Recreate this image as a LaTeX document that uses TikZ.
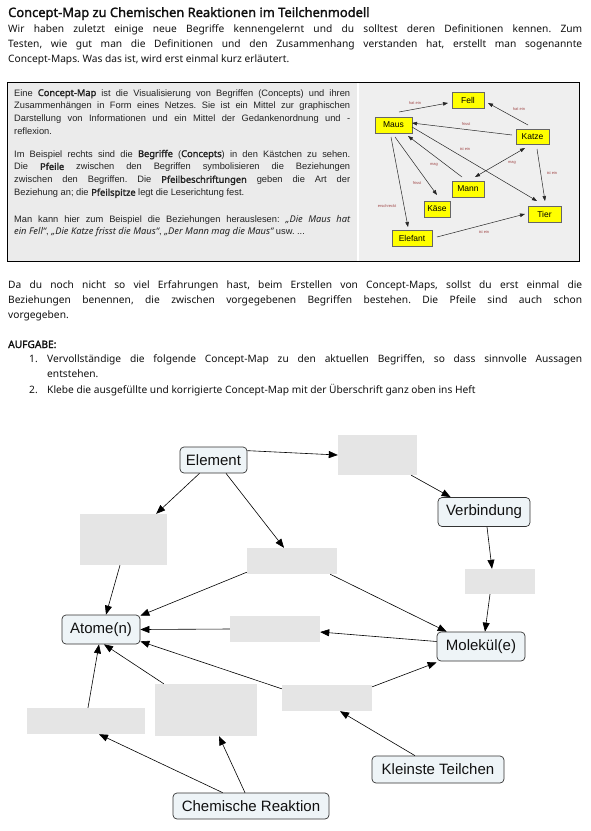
\documentclass[tikz,border=0pt]{standalone}
\usepackage{fontspec}
\setmainfont{Noto Sans}[AutoFakeBold=1.8]
\newfontfamily\lib{Liberation Sans}
\usetikzlibrary{arrows.meta,calc}
\frenchspacing
\definecolor{txt}{HTML}{111111}
\definecolor{ptxt}{HTML}{222222}
\definecolor{panelL}{HTML}{EBEBEB}
\definecolor{panelR}{HTML}{EFEFEF}
\definecolor{cfill}{HTML}{EEF4F7}
\definecolor{blankc}{HTML}{E5E5E5}
\definecolor{lbl}{HTML}{A04848}
\definecolor{yel}{HTML}{FFFF00}
\newcommand\nbf[1]{{\rmfamily\bfseries #1}}
\newcommand\nit[1]{{\rmfamily\itshape #1}}
\newcommand\jline[1]{\noindent\hbox to 336pt{#1}\par}
\newcommand\lastl[1]{\noindent #1\par}
\begin{document}
\begin{tikzpicture}[x=1pt,y=-1pt,
  bodytext/.style={anchor=base west, inner sep=0pt, text width=574pt, align=justify, font=\fontsize{10.2}{15}\selectfont, text=txt},
  paneltext/.style={anchor=base west, inner sep=0pt, text width=336pt, align=justify, font=\lib\fontsize{9.3}{12.9}\selectfont, text=ptxt},
  exnode/.style={draw=black!60, fill=yel, line width=0.5pt, font=\lib\fontsize{8.5}{10}\selectfont, minimum height=16pt, inner sep=0pt},
  exarr/.style={-{Triangle[length=5pt,width=3.6pt]}, line width=0.5pt, draw=black!85},
  exlbl/.style={font=\lib\fontsize{4}{5}\selectfont, text=lbl, inner sep=0pt},
  concept/.style={draw=black!80, fill=cfill, rounded corners=4pt, line width=0.7pt, font=\lib\fontsize{15}{17}\selectfont, text=txt, inner sep=0pt},
  blankbox/.style={fill=blankc, inner sep=0pt},
  cmarr/.style={-{Triangle[length=9pt,width=7pt]}, line width=0.6pt}]
\path[use as bounding box, fill=white] (0,0) rectangle (590,831);

% header text
\node[anchor=base west, inner sep=0pt, font=\fontsize{12.9}{15}\selectfont\bfseries, text=txt] (title) at (8,17) {Concept-Map zu Chemischen Reaktionen im Teilchenmodell};
\node[bodytext] (p1) at (8,32) {Wir haben zuletzt einige neue Begriffe kennengelernt und du solltest deren Definitionen kennen. Zum\linebreak Testen, wie gut man die Definitionen und den Zusammenhang verstanden hat, erstellt man sogenannte\linebreak Concept-Maps. Was das ist, wird erst einmal kurz erläutert.};

% info panel
\fill[panelL] (8,83) rectangle (357,261);
\fill[panelR] (359,83) rectangle (579,261);
\draw[black, line width=0.8pt] (7.5,82.5) rectangle (579.5,261);

\node[paneltext] (pa) at (14,96) {\jline{Eine \nbf{Concept-Map} ist die Visualisierung von Begriffen (Concepts) und ihren}\jline{Zusammenhängen in Form eines Netzes. Sie ist ein Mittel zur graphischen}\jline{Darstellung von Informationen und ein Mittel der Gedankenordnung und -}\lastl{reflexion.}};
\node[paneltext] (pb) at (14,157) {\jline{Im Beispiel rechts sind die \nbf{Begriffe} (\nbf{Concepts}) in den Kästchen zu sehen.}\jline{Die \nbf{Pfeile} zwischen den Begriffen symbolisieren die Beziehungen}\jline{zwischen den Begriffen. Die \nbf{Pfeilbeschriftungen} geben die Art der}\lastl{Beziehung an; die \nbf{Pfeilspitze} legt die Leserichtung fest.}};
\node[paneltext] (pc) at (14,222) {\jline{Man kann hier zum Beispiel die Beziehungen herauslesen: \nit{„Die Maus hat}}\lastl{\nit{ein Fell“}, \nit{„Die Katze frisst die Maus“}, \nit{„Der Mann mag die Maus“} usw. ...}};

% example concept map
\node[exnode, minimum width=32pt] (f) at (468,100) {Fell};
\node[exnode, minimum width=37pt] (m) at (393.5,125) {Maus};
\node[exnode, minimum width=33pt, minimum height=15pt] (k) at (532.5,136.5) {Katze};
\node[exnode, minimum width=32pt] (mn) at (468,189) {Mann};
\node[exnode, minimum width=26pt] (ks) at (437,209) {Käse};
\node[exnode, minimum width=33pt] (t) at (544.5,214) {Tier};
\node[exnode, minimum width=40pt] (e) at (412,238) {Elefant};

\draw[exarr] ($(m)+(5.5,-13)$) -- ($(f)+(-20,3)$);
\draw[exarr] ($(k)+(-4.5,-11.5)$) -- ($(f)+(20,3)$);
\draw[exarr] ($(k)+(-20.5,-1.5)$) -- ($(m)+(18.5,-2)$);
\draw[exarr] ($(m)+(18.5,2)$) -- ($(t)+(-7.5,-13)$);
\draw[exarr] ($(mn)+(-6,-12)$) -- ($(m)+(14.5,11)$);
\draw[exarr,{Triangle[length=5pt,width=3.6pt]}-{Triangle[length=5pt,width=3.6pt]}] ($(mn)+(7,-12)$) -- ($(k)+(-7.5,11.5)$);
\draw[exarr] ($(m)+(1.5,12)$) -- ($(ks)+(0,-14)$);
\draw[exarr] ($(m)+(-2.5,12)$) -- ($(e)+(-4,-11)$);
\draw[exarr] ($(k)+(4.5,12.5)$) -- ($(t)+(0.5,-13)$);
\draw[exarr] ($(e)+(25,-1)$) -- ($(t)+(-19.5,0)$);

\node[exlbl] (l1) at (415,103) {hat ein};
\node[exlbl] (l2) at (519,109) {hat ein};
\node[exlbl] (l3) at (466,124) {frisst};
\node[exlbl] (l4) at (465,149) {ist ein};
\node[exlbl] (l5) at (434,165) {mag};
\node[exlbl] (l6) at (512,163) {mag};
\node[exlbl] (l7) at (417,183) {frisst};
\node[exlbl] (l8) at (387,206) {erschreckt};
\node[exlbl] (l9) at (552,173) {ist ein};
\node[exlbl] (l10) at (484,232) {ist ein};

% lower text
\node[bodytext] (p2) at (8,288.5) {Da du noch nicht so viel Erfahrungen hast, beim Erstellen von Concept-Maps, sollst du erst einmal die\linebreak Beziehungen benennen, die zwischen vorgegebenen Begriffen bestehen. Die Pfeile sind auch schon\linebreak vorgegeben.};
\node[anchor=base west, inner sep=0pt, font=\fontsize{10.2}{15}\selectfont\bfseries, text=txt] (auf) at (8,348) {AUFGABE:};
\node[anchor=base west, inner sep=0pt, font=\fontsize{10.2}{15}\selectfont, text=txt] (n1) at (29,362.5) {1.};
\node[bodytext, text width=535pt] (i1) at (47,362.5) {Vervollständige die folgende Concept-Map zu den aktuellen Begriffen, so dass sinnvolle Aussagen\linebreak entstehen.};
\node[anchor=base west, inner sep=0pt, font=\fontsize{10.2}{15}\selectfont, text=txt] (n2) at (29,393.5) {2.};
\node[bodytext, text width=535pt] (i2) at (47,393.5) {Klebe die ausgefüllte und korrigierte Concept-Map mit der Überschrift ganz oben ins Heft};

% concept map
\node[concept, minimum width=67pt, minimum height=26pt] (el) at (213.5,460) {Element};
\node[concept, minimum width=92pt, minimum height=29pt] (vb) at (484,512) {Verbindung};
\node[concept, minimum width=78pt, minimum height=29pt] (at) at (101,629.5) {Atome(n)};
\node[concept, minimum width=88pt, minimum height=29pt] (mo) at (481,646.5) {Molekül(e)};
\node[concept, minimum width=132pt, minimum height=27pt] (kt) at (438,769.5) {Kleinste Teilchen};
\node[concept, minimum width=156pt, minimum height=26pt] (ch) at (251,806) {Chemische Reaktion};

\node[blankbox, minimum width=79pt, minimum height=40pt] (tb) at (377.5,455) {};
\node[blankbox, minimum width=87pt, minimum height=51pt] (lb) at (123.5,539.5) {};
\node[blankbox, minimum width=90pt, minimum height=26pt] (mb) at (292,561) {};
\node[blankbox, minimum width=70pt, minimum height=25pt] (rb) at (500,581.5) {};
\node[blankbox, minimum width=90pt, minimum height=26pt] (cb) at (275,629) {};
\node[blankbox, minimum width=118pt, minimum height=26pt] (bl) at (86,721) {};
\node[blankbox, minimum width=102pt, minimum height=52pt] (mbb) at (206,710) {};
\node[blankbox, minimum width=90pt, minimum height=26pt] (mr) at (327,698) {};

\draw[cmarr] ($(el.north east)+(0,4)$) -- (tb.west);
\draw[cmarr] ($(tb.south east)+(-6,0)$) -- ($(vb.north west)+(13,0)$);
\draw[cmarr] ($(el.south)+(-14,0)$) -- ($(lb.north east)+(-11,0)$);
\draw[cmarr] ($(el.south)+(12.5,0)$) -- ($(mb.north)+(-8,0)$);
\draw[cmarr] ($(vb.south)+(3,0)$) -- ($(rb.north)+(-8,0)$);
\draw[cmarr] ($(rb.south)+(-10,0)$) -- ($(mo.north)+(4,0)$);
\draw[cmarr] ($(mb.south west)+(0,-2)$) -- ($(at.north east)+(0,1)$);
\draw[cmarr] ($(mb.south east)+(-7,0)$) -- ($(mo.north west)+(10,0)$);
\draw[cmarr] ($(lb.south)+(-3.5,0)$) -- ($(at.north)+(5,0)$);
\draw[cmarr] ($(mo.west)+(0,-5)$) -- ($(cb.east)+(0,3)$);
\draw[cmarr] (cb.west) -- (at.east);
\draw[cmarr] ($(mr.north west)+(0,4)$) -- ($(at.south east)+(0,-3)$);
\draw[cmarr] ($(mr.north east)+(0,2)$) -- ($(mo.south west)+(0,1)$);
\draw[cmarr] ($(mbb.north west)+(9,0)$) -- ($(at.south)+(3,0)$);
\draw[cmarr] ($(bl.north)+(2,0)$) -- ($(at.south)+(-2,0)$);
\draw[cmarr] ($(ch.north west)+(50,0)$) -- ($(bl.south)+(13,0)$);
\draw[cmarr] ($(ch.north)+(-6,0)$) -- ($(mbb.south)+(13,0)$);
\draw[cmarr] ($(kt.north)+(-23,0)$) -- ($(mr.south)+(13,0)$);
\end{tikzpicture}
\end{document}
